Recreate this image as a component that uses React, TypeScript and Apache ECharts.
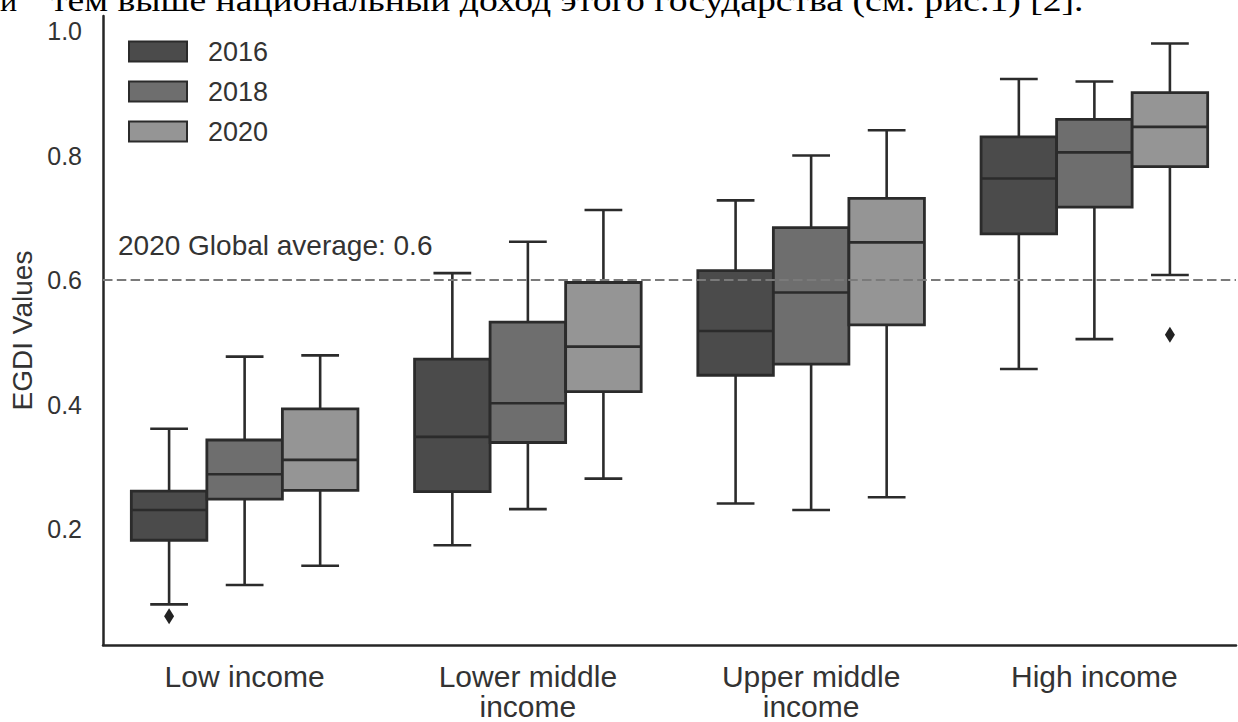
import React, { useEffect, useRef } from "react";
import * as echarts from "echarts";

const categories = ["Low income", "Lower middle\nincome", "Upper middle\nincome", "High income"];
const years = ["2016", "2018", "2020"];
// each entry: [lower whisker, Q1, median, Q3, upper whisker]
const box2016 = [
  [0.079, 0.182, 0.2305, 0.261, 0.361],
  [0.174, 0.26, 0.348, 0.473, 0.611],
  [0.241, 0.447, 0.518, 0.615, 0.728],
  [0.457, 0.674, 0.763, 0.83, 0.923],
];
const box2018 = [
  [0.11, 0.248, 0.288, 0.343, 0.477],
  [0.232, 0.339, 0.402, 0.5325, 0.6615],
  [0.2305, 0.465, 0.58, 0.684, 0.8],
  [0.505, 0.717, 0.805, 0.858, 0.919],
];
const box2020 = [
  [0.141, 0.262, 0.311, 0.393, 0.479],
  [0.281, 0.4206, 0.493, 0.596, 0.7125],
  [0.251, 0.528, 0.6605, 0.731, 0.8405],
  [0.608, 0.782, 0.846, 0.901, 0.98],
];
// [category index, value]
const outliers2016 = [[0, 0.06]];
const outliers2018: number[][] = [];
const outliers2020 = [[3, 0.512]];
const globalAverage = 0.6;
const yTickValues = [0.2, 0.4, 0.6, 0.8, 1.0];
const annotationText = "2020 Global average: 0.6";
const yAxisName = "EGDI Values";
const topTextLead = "и";
const topText = "тем выше национальный доход этого государства (см. рис.1) [2].";

const FILLS = ["#4b4b4b", "#6e6e6e", "#959595"];
const LINE = "#2b2b2b";
const FONT = "'Liberation Sans', Arial, sans-serif";

function boxRender(k: number, fill: string) {
  return (params: any, api: any) => {
    const ci = api.value(0);
    const bandW = api.size([1, 0])[0];
    const boxW = (bandW * 0.8) / 3;
    const cx = api.coord([ci, api.value(3)])[0] + (k - 1) * boxW;
    const y = (i: number) => api.coord([ci, api.value(i)])[1];
    const yLow = y(1), yQ1 = y(2), yMed = y(3), yQ3 = y(4), yHigh = y(5);
    const half = boxW / 2;
    const cap = boxW / 4;
    const ls = { stroke: LINE, lineWidth: 2.6 };
    return {
      type: "group",
      children: [
        { type: "line", shape: { x1: cx, y1: yQ3, x2: cx, y2: yHigh }, style: ls },
        { type: "line", shape: { x1: cx, y1: yQ1, x2: cx, y2: yLow }, style: ls },
        { type: "line", shape: { x1: cx - cap, y1: yHigh, x2: cx + cap, y2: yHigh }, style: ls },
        { type: "line", shape: { x1: cx - cap, y1: yLow, x2: cx + cap, y2: yLow }, style: ls },
        {
          type: "rect",
          shape: { x: cx - half, y: yQ3, width: boxW, height: yQ1 - yQ3 },
          style: { fill, stroke: LINE, lineWidth: 2.8 },
        },
        { type: "line", shape: { x1: cx - half, y1: yMed, x2: cx + half, y2: yMed }, style: ls },
      ],
    };
  };
}

function outlierRender(k: number) {
  return (params: any, api: any) => {
    const ci = api.value(0);
    const bandW = api.size([1, 0])[0];
    const boxW = (bandW * 0.8) / 3;
    const p = api.coord([ci, api.value(1)]);
    const cx = p[0] + (k - 1) * boxW;
    const cy = p[1];
    return {
      type: "polygon",
      shape: { points: [[cx, cy - 8], [cx + 5, cy], [cx, cy + 8], [cx - 5, cy]] },
      style: { fill: "#222" },
    };
  };
}

export default function App() {
  const ref = useRef<HTMLDivElement>(null);
  useEffect(() => {
    if (!ref.current) return;
    const chart = echarts.init(ref.current, null, { renderer: "svg" });
    const boxes = [box2016, box2018, box2020];
    const outs = [outliers2016, outliers2018, outliers2020];

    let scaleX = 1;
    try {
      const ctx = document.createElement("canvas").getContext("2d");
      if (ctx) {
        ctx.font = "32px 'Liberation Serif'";
        const w = ctx.measureText(topText).width;
        if (w > 0) scaleX = 1033 / w;
      }
    } catch (e) {}

    const series: any[] = [];
    years.forEach((yr, k) => {
      series.push({
        name: yr,
        type: "custom",
        renderItem: boxRender(k, FILLS[k]),
        encode: { x: 0, y: [1, 2, 3, 4, 5] },
        itemStyle: { color: FILLS[k], borderColor: LINE },
        data: boxes[k].map((b, i) => [i, ...b]),
        z: 2,
      });
      series.push({
        name: yr,
        type: "custom",
        renderItem: outlierRender(k),
        encode: { x: 0, y: 1 },
        data: outs[k],
        z: 3,
      });
    });
    series.push({
      type: "line",
      data: [],
      z: 10,
      markLine: {
        silent: true,
        symbol: "none",
        label: { show: false },
        lineStyle: { color: "#7a7a7a", type: [9.5, 4.3], width: 2 },
        data: [{ yAxis: globalAverage }],
      },
    });

    chart.setOption({
      animation: false,
      backgroundColor: "#ffffff",
      grid: { left: 103, right: 2, top: 16, bottom: 77, containLabel: false },
      legend: {
        orient: "vertical",
        left: 123,
        top: 33,
        itemWidth: 58,
        itemHeight: 20,
        itemGap: 13,
        selectedMode: false,
        textStyle: { fontFamily: FONT, fontSize: 27, color: "#333", padding: [0, 0, 0, 16] },
        data: years.map((yr, k) => ({
          name: yr,
          icon: "rect",
          itemStyle: { color: FILLS[k], borderColor: LINE, borderWidth: 2 },
        })),
      },
      xAxis: {
        type: "category",
        data: categories,
        boundaryGap: true,
        axisLine: { lineStyle: { color: "#262626", width: 2.5 } },
        axisTick: { show: false },
        splitLine: { show: false },
        axisLabel: { fontFamily: FONT, fontSize: 30, lineHeight: 30, color: "#333", margin: 16, interval: 0 },
      },
      yAxis: {
        type: "value",
        min: 0.0137,
        max: 1.0241,
        name: yAxisName,
        nameLocation: "middle",
        nameRotate: 90,
        nameGap: 66,
        nameTextStyle: { fontFamily: FONT, fontSize: 28, color: "#333" },
        axisLine: { show: true, lineStyle: { color: "#262626", width: 2.5 } },
        axisTick: { show: false },
        splitLine: { show: false },
        axisLabel: {
          fontFamily: FONT,
          fontSize: 25,
          color: "#333",
          margin: 21,
          customValues: yTickValues,
          formatter: (v: number) => v.toFixed(1),
        },
      },
      graphic: [
        {
          type: "text",
          x: 118,
          y: 245,
          style: { text: annotationText, font: `28px ${FONT}`, fill: "#333", verticalAlign: "middle", align: "left" },
          z: 20,
        },
        {
          type: "text",
          x: 0,
          y: 16,
          style: { text: topTextLead, font: "32px 'Liberation Serif'", fill: "#000", verticalAlign: "bottom", align: "left" },
        },
        {
          type: "text",
          x: 51,
          y: 16,
          scaleX: scaleX,
          style: { text: topText, font: "32px 'Liberation Serif'", fill: "#000", verticalAlign: "bottom", align: "left" },
        },
      ],
      series,
    });
    return () => chart.dispose();
  }, []);
  return (
    <div
      ref={ref}
      style={{ position: "fixed", left: 0, top: 0, width: 1238, height: 722, background: "#fff" }}
    />
  );
}
